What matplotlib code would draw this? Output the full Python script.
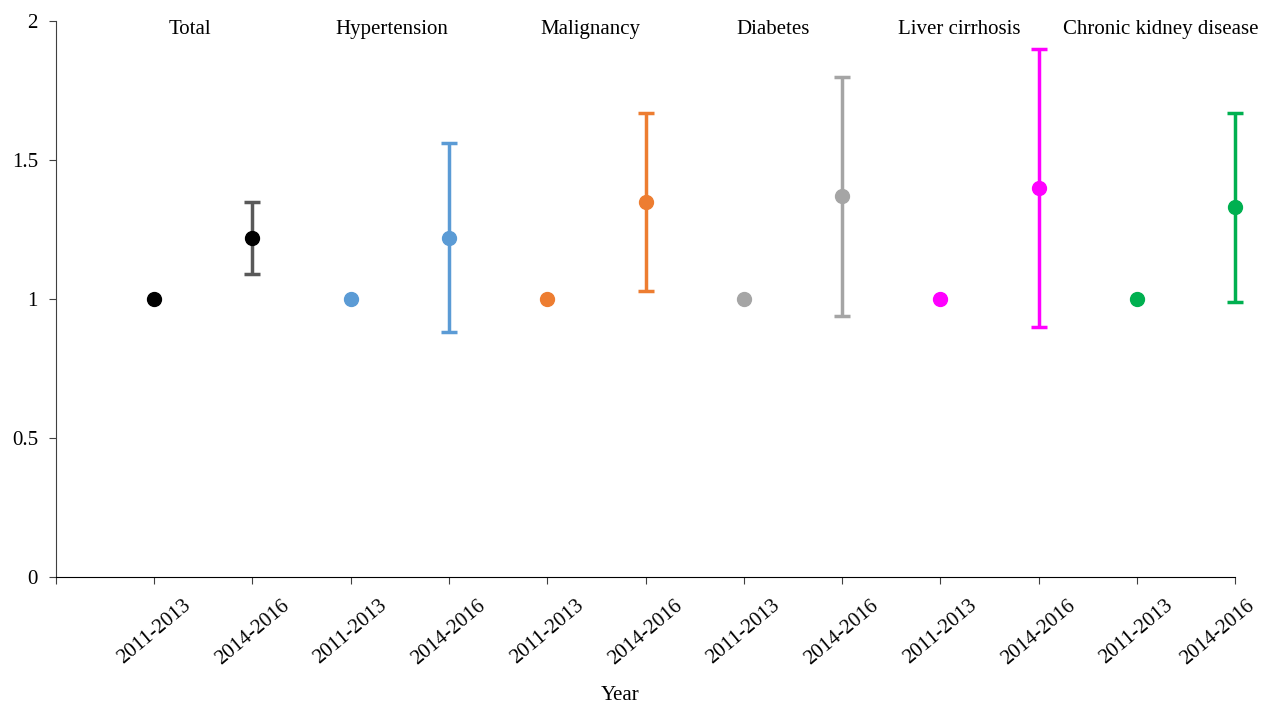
import numpy as np
import matplotlib.pyplot as plt
from matplotlib.transforms import offset_copy

plt.rcParams['font.family'] = ['Liberation Serif', 'DejaVu Serif']

groups = ["Total", "Hypertension", "Malignancy", "Diabetes", "Liver cirrhosis",
          "Chronic kidney disease"]
periods = ["2011-2013", "2014-2016"]
ref_value = [1.0, 1.0, 1.0, 1.0, 1.0, 1.0]
later_value = [1.22, 1.22, 1.35, 1.37, 1.40, 1.33]
later_low = [1.09, 0.88, 1.03, 0.94, 0.90, 0.99]
later_high = [1.35, 1.56, 1.67, 1.80, 1.90, 1.67]
colors = ["#000000", "#5B9BD5", "#ED7D31", "#A5A5A5", "#FF00FF", "#00B050"]
bar_colors = ["#595959", "#5B9BD5", "#ED7D31", "#A5A5A5", "#FF00FF", "#00B050"]
title_offset = [0.36, 0.42, 0.44, 0.30, 0.19, 0.24]

fig = plt.figure(figsize=(12.61, 7.03), dpi=100)
ax = fig.add_axes([0.0444, 0.1792, 0.935, 0.7908])

for i, name in enumerate(groups):
    x0 = 2 * i + 1
    x1 = 2 * i + 2
    ax.plot(x0, ref_value[i], "o", color=colors[i], markersize=10, zorder=3,
            clip_on=False)
    err = [[later_value[i] - later_low[i]], [later_high[i] - later_value[i]]]
    eb = ax.errorbar(x1, later_value[i], yerr=err, fmt="none", ecolor=bar_colors[i],
                     elinewidth=2.5, capsize=6, capthick=2.5, zorder=2)
    for art in eb.lines[1] + eb.lines[2]:
        art.set_clip_on(False)
    ax.plot(x1, later_value[i], "o", color=colors[i], markersize=10, zorder=3,
            clip_on=False)
    ax.text(x0 + title_offset[i], 1.968, name, ha="center", va="center",
            fontsize=15)

ax.set_xlim(0, 12)
ax.set_ylim(0, 2)
ax.set_xticks(np.arange(0, 13))
ax.set_xticklabels([])

# rotated period labels, last one nudged left so it stays inside the figure
xlabels = periods * len(groups)
for k, lab in enumerate(xlabels):
    dx = -17 if k == len(xlabels) - 1 else 0
    tr = offset_copy(ax.get_xaxis_transform(), fig=fig, x=dx, y=-19, units="dots")
    ax.text(k + 1, 0, lab, transform=tr, rotation=40, ha="center", va="top",
            fontsize=15)

ax.set_yticks([0, 0.5, 1, 1.5, 2])
ax.set_yticklabels(["0", "0.5", "1", "1.5", "2"], fontsize=15)
ax.tick_params(axis="both", length=5, color="#404040")
ax.tick_params(axis="y", pad=8)
ax.spines["top"].set_visible(False)
ax.spines["right"].set_visible(False)
ax.spines["left"].set_color("#404040")
ax.spines["bottom"].set_color("#000000")
fig.text(620 / 1261, 1 - 696 / 703, "Year", ha="center", va="center", fontsize=15)

fig.savefig("out.png", dpi=100)
